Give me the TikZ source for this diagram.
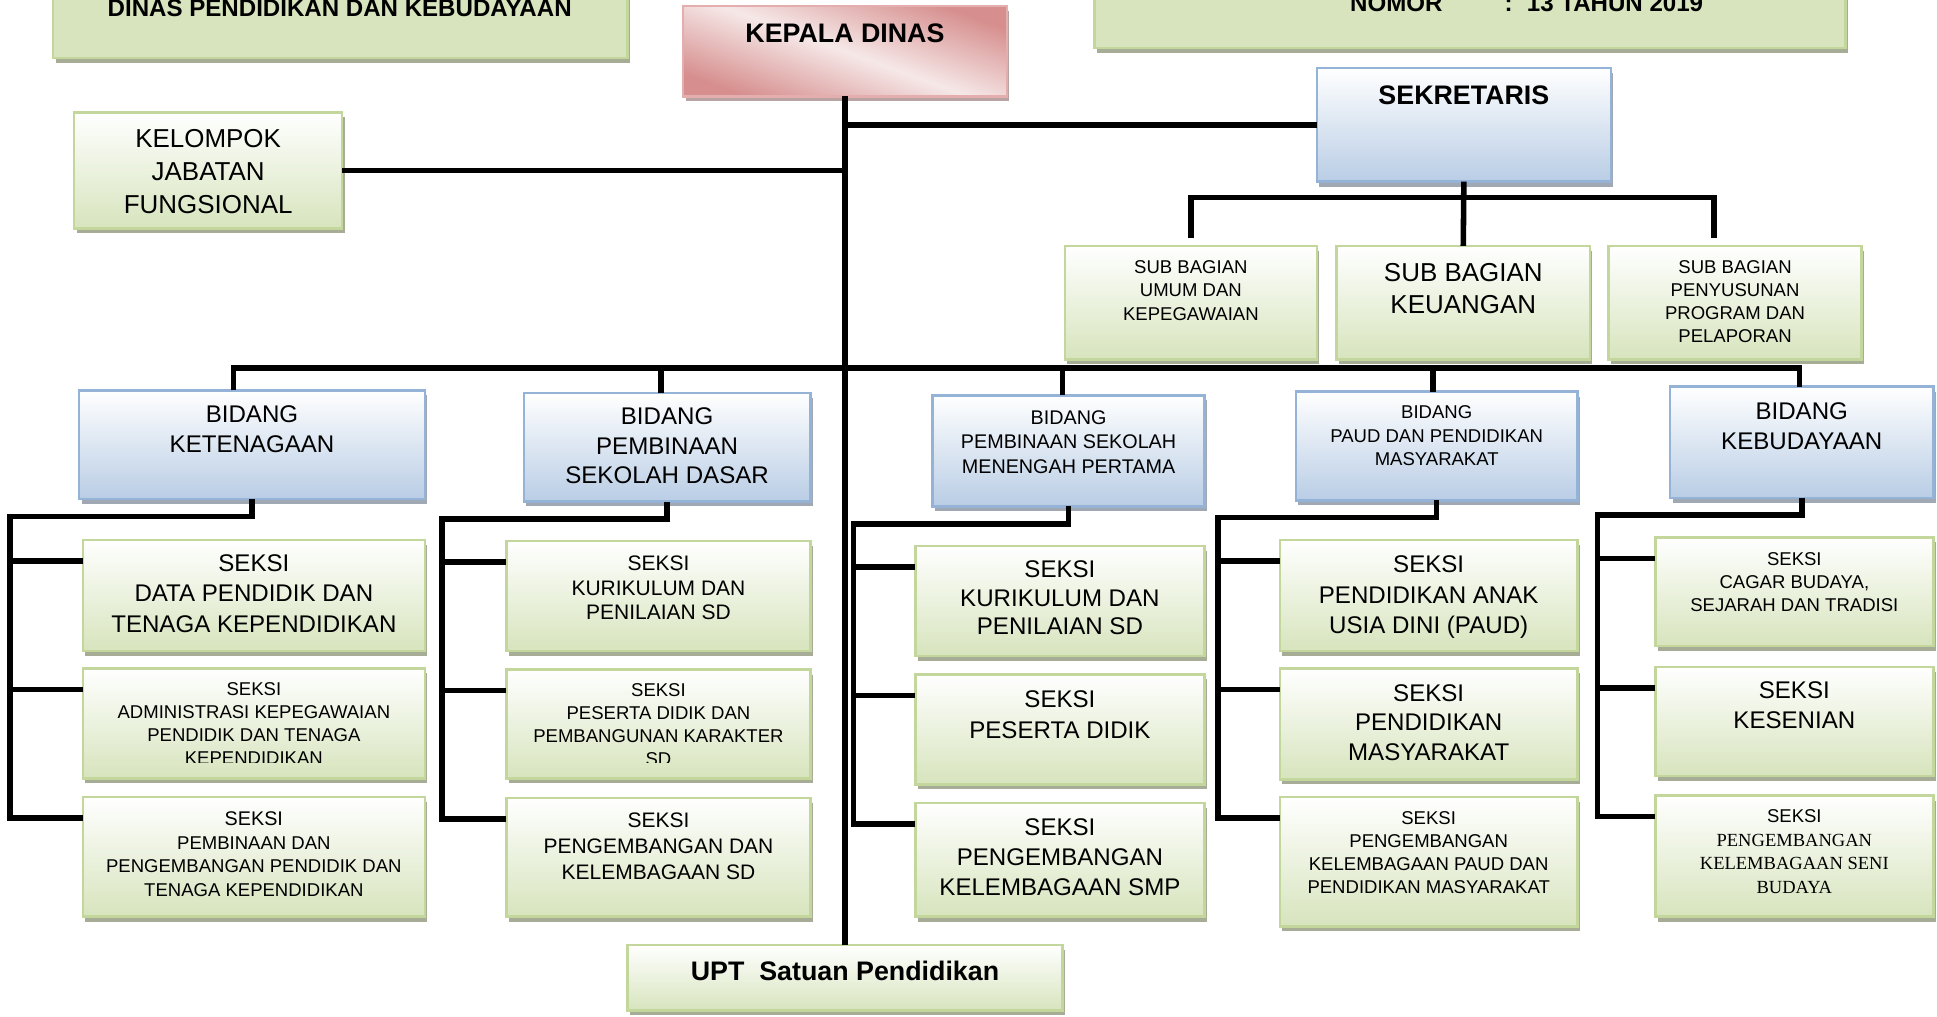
\documentclass[tikz,border=0pt]{standalone}
\usepackage{fontspec}
\setmainfont{Liberation Sans}
\newfontfamily\serifA{Liberation Serif}
\usetikzlibrary{shadows}
\definecolor{grn}{HTML}{D7E4BD}
\definecolor{grnB}{HTML}{C3D69B}
\definecolor{blu}{HTML}{B9CDE5}
\definecolor{bluB}{HTML}{95B3D7}
\definecolor{pnkD}{HTML}{D68F8E}
\definecolor{pnkL}{HTML}{F6E8E8}
\definecolor{pnkB}{HTML}{E3AEAD}
\definecolor{shG}{HTML}{A7AC97}
\definecolor{shB}{HTML}{A0A8B4}
\definecolor{shP}{HTML}{B9A2A2}
\newcommand\fsz[2]{\fontsize{#1}{#2}\selectfont}
\newcommand\mkbox[6]{\node[#2, minimum width={((#5)-(#3))*1pt}, minimum height={((#6)-(#4))*1pt}] (#1) at ({((#3)+(#5))/2},{((#4)+(#6))/2}) {};}
\tikzset{
  boxbase/.style={inner sep=0pt, outer sep=0pt, line width=2pt},
  gbox/.style={boxbase, draw=grnB, top color=white, bottom color=grn,
    drop shadow={shadow xshift=2pt, shadow yshift=-4pt, fill=shG, opacity=1}},
  bbox/.style={boxbase, draw=bluB, top color=white, bottom color=blu,
    drop shadow={shadow xshift=2pt, shadow yshift=-4pt, fill=shB, opacity=1}},
  tbox/.style={boxbase, draw=grnB, fill=grn,
    drop shadow={shadow xshift=2pt, shadow yshift=-4pt, fill=shG, opacity=1}},
  pbox/.style={boxbase, draw=pnkB, shading=axis, top color=pnkD, bottom color=pnkD, middle color=pnkL, shading angle=160,
    drop shadow={shadow xshift=2pt, shadow yshift=-4pt, fill=shP, opacity=1}},
  conn/.style={line width=4.5pt, black},
  txt/.style={anchor=north, align=center, inner sep=0pt, outer sep=0pt},
  hd/.style={inner sep=0pt, outer sep=0pt, font={\fsz{19.5}{24}\bfseries}},
}
\begin{document}
\begin{tikzpicture}[x=1pt,y=-1pt]
\useasboundingbox (0,0) rectangle (1568,823);
% boxes
\mkbox{ttlL}{tbox}{43}{-40}{508}{47}
\mkbox{ttlR}{tbox}{886}{-40}{1494}{39}
\mkbox{kep}{pbox}{553}{5}{815}{78}
\mkbox{sek}{bbox}{1066}{55}{1304}{147}
\mkbox{kjf}{gbox}{60}{91}{277}{185}
\mkbox{sb1}{gbox}{862}{199}{1066}{291}
\mkbox{sb2}{gbox}{1082}{199}{1287}{291}
\mkbox{sb3}{gbox}{1302}{199}{1507}{291}
\mkbox{b1}{bbox}{64}{316}{344}{404}
\mkbox{b2}{bbox}{424}{318}{656}{406}
\mkbox{b3}{bbox}{755}{320}{975}{410}
\mkbox{b4}{bbox}{1049}{317}{1277}{405}
\mkbox{b5}{bbox}{1352}{313}{1565}{403}
\mkbox{c1a}{gbox}{67}{437}{344}{527}
\mkbox{c1b}{gbox}{67}{541}{344}{630}
\mkbox{c1c}{gbox}{67}{645}{344}{742}
\mkbox{c2a}{gbox}{410}{438}{656}{527}
\mkbox{c2b}{gbox}{410}{542}{656}{630}
\mkbox{c2c}{gbox}{410}{646}{656}{742}
\mkbox{c3a}{gbox}{741}{442}{975}{531}
\mkbox{c3b}{gbox}{741}{546}{975}{635}
\mkbox{c3c}{gbox}{741}{650}{975}{742}
\mkbox{c4a}{gbox}{1036}{437}{1277}{527}
\mkbox{c4b}{gbox}{1036}{541}{1277}{631}
\mkbox{c4c}{gbox}{1036}{645}{1277}{750}
\mkbox{c5a}{gbox}{1340}{435}{1565}{523}
\mkbox{c5b}{gbox}{1340}{540}{1565}{628}
\mkbox{c5c}{gbox}{1340}{644}{1565}{742}
\mkbox{upt}{gbox}{508}{765}{860}{818}

% titles
\node[hd, anchor=base] (tL) at (275,13.5) {DINAS PENDIDIKAN DAN KEBUDAYAAN};
\node[hd, anchor=base west] (tR1) at (1093,9.5) {NOMOR};
\node[hd, anchor=base west] (tR2) at (1218,9.5) {:};
\node[hd, anchor=base west] (tR3) at (1236,9.5) {13 TAHUN 2019};

% texts
\node[txt, font={\fsz{21.7}{26}\bfseries}] (tkep) at (684,19.2) {KEPALA DINAS};
\node[txt, font={\fsz{21.7}{26}\bfseries}] (tsek) at (1185,69.2) {SEKRETARIS};
\node[txt, font={\fsz{21}{27}}] (tkjf) at (168.5,104.4) {KELOMPOK\\JABATAN\\FUNGSIONAL};
\node[txt, font={\fsz{15}{19}}] (tsb1) at (964,210.6) {SUB BAGIAN\\UMUM DAN\\KEPEGAWAIAN};
\node[txt, font={\fsz{21}{26}}] (tsb2) at (1184.5,213.4) {SUB BAGIAN\\KEUANGAN};
\node[txt, font={\fsz{15}{18.7}}] (tsb3) at (1404.5,210.6) {SUB BAGIAN\\PENYUSUNAN\\PROGRAM DAN\\PELAPORAN};
\node[txt, font={\fsz{19.5}{25}}] (tb1) at (204,328) {BIDANG\\KETENAGAAN};
\node[txt, font={\fsz{19.5}{24}}] (tb2) at (540,330) {BIDANG\\PEMBINAAN\\SEKOLAH DASAR};
\node[txt, font={\fsz{16}{20}}] (tb3) at (865,332.2) {BIDANG\\PEMBINAAN SEKOLAH\\MENENGAH PERTAMA};
\node[txt, font={\fsz{15}{19}}] (tb4) at (1163,328.6) {BIDANG\\PAUD DAN PENDIDIKAN\\MASYARAKAT};
\node[txt, font={\fsz{19.5}{24}}] (tb5) at (1458.5,326) {BIDANG\\KEBUDAYAAN};
\node[txt, font={\fsz{19.5}{24.5}}] (tc1a) at (205.5,449) {SEKSI\\DATA PENDIDIK DAN\\TENAGA KEPENDIDIKAN};
\begin{scope}
\clip (0,0) rectangle (1568,617);
\node[txt, font={\fsz{15}{18.7}}] (tc1b) at (205.5,552.6) {SEKSI\\ADMINISTRASI KEPEGAWAIAN\\PENDIDIK DAN TENAGA\\KEPENDIDIKAN};
\node[txt, font={\fsz{15}{18.5}}] (tc2b) at (533,553.6) {SEKSI\\PESERTA DIDIK DAN\\PEMBANGUNAN KARAKTER\\SD};
\end{scope}
\node[txt, font={\fsz{15}{19}}] (tc1c) at (205.5,657.2) {{\fsz{16}{19}SEKSI}\\PEMBINAAN DAN\\PENGEMBANGAN PENDIDIK DAN\\TENAGA KEPENDIDIKAN};
\node[txt, font={\fsz{17}{20}}] (tc2a) at (533,449.9) {SEKSI\\KURIKULUM DAN\\PENILAIAN SD};
\node[txt, font={\fsz{17}{21}}] (tc2c) at (533,657.9) {SEKSI\\PENGEMBANGAN DAN\\KELEMBAGAAN SD};
\node[txt, font={\fsz{19.5}{23}}] (tc3a) at (858,454) {SEKSI\\KURIKULUM DAN\\PENILAIAN SD};
\node[txt, font={\fsz{19.5}{25}}] (tc3b) at (858,559) {SEKSI\\PESERTA DIDIK};
\node[txt, font={\fsz{19.5}{24}}] (tc3c) at (858,663) {SEKSI\\PENGEMBANGAN\\KELEMBAGAAN SMP};
\node[txt, font={\fsz{19.5}{24.5}}] (tc4a) at (1156.5,450) {SEKSI\\PENDIDIKAN ANAK\\USIA DINI (PAUD)};
\node[txt, font={\fsz{19.5}{24}}] (tc4b) at (1156.5,554) {SEKSI\\PENDIDIKAN\\MASYARAKAT};
\node[txt, font={\fsz{15}{18.7}}] (tc4c) at (1156.5,656.6) {SEKSI\\PENGEMBANGAN\\KELEMBAGAAN PAUD DAN\\PENDIDIKAN MASYARAKAT};
\node[txt, font={\fsz{15}{18.5}}] (tc5a) at (1452.5,447.6) {SEKSI\\CAGAR BUDAYA,\\SEJARAH DAN TRADISI};
\node[txt, font={\fsz{19.5}{24}}] (tc5b) at (1452.5,552) {SEKSI\\KESENIAN};
\node[txt, font={\fsz{15}{19}}] (tc5c) at (1452.5,655.6) {SEKSI\\{\serifA PENGEMBANGAN}\\{\serifA KELEMBAGAAN SENI}\\{\serifA BUDAYA}};
\node[txt, font={\fsz{21.7}{26}\bfseries}] (tupt) at (684,778.2) {UPT\ \ Satuan Pendidikan};

% connectors
\draw[conn] (kep.south) -- (upt.north);
\draw[conn] (kep.south |- sek.west) -- (sek.west);
\draw[conn] (kep.south |- kjf.east) -- (kjf.east);
\coordinate (sbus) at ([yshift=-13pt]sek.south);
\coordinate (e1) at ([yshift=6pt]sb1.north);
\coordinate (e3) at ([xshift=-17pt,yshift=6pt]sb3.north);
\draw[conn] (sek.south) -- (sb2.north);
\draw[conn] (e1) -- (e1 |- sbus) -- (e3 |- sbus) -- (e3);
\coordinate (mbus) at (684,298);
\coordinate (d1) at ([xshift=-15pt]b1.north);
\coordinate (d2) at ([xshift=-5pt]b2.north);
\coordinate (d3) at ([xshift=-5pt]b3.north);
\coordinate (d4) at ([xshift=-3pt]b4.north);
\coordinate (d5) at ([xshift=-2pt]b5.north);
\draw[conn] (d1) -- (d1 |- mbus) -- (d5 |- mbus) -- (d5);
\draw[conn] (d2) -- (d2 |- mbus);
\draw[conn] (d3) -- (d3 |- mbus);
\draw[conn] (d4) -- (d4 |- mbus);
% spines
\coordinate (sp1) at (8,0);
\coordinate (sp2) at (358,0);
\coordinate (sp3) at (691,0);
\coordinate (sp4) at (986,0);
\coordinate (sp5) at (1293,0);
\foreach \k in {1,...,5}{
  \foreach \r in {a,b,c}{
    \coordinate (k\k\r) at ([yshift=-17pt]c\k\r.north west);
  }
  \draw[conn] (b\k.south) -- ++(0,14) -| (sp\k |- k\k c) -- (k\k c);
  \draw[conn] (sp\k |- k\k a) -- (k\k a);
  \draw[conn] (sp\k |- k\k b) -- (k\k b);
}
\end{tikzpicture}
\end{document}
